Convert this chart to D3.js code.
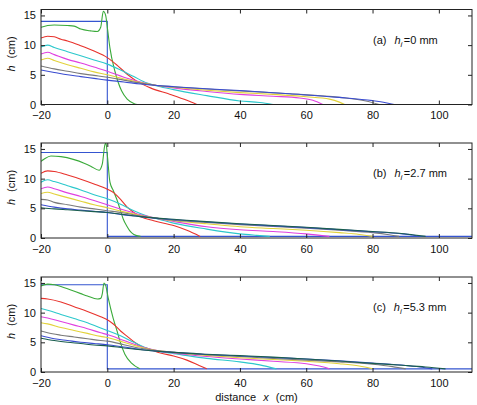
<!DOCTYPE html>
<html>
<head>
<meta charset="utf-8">
<script src="https://cdn.jsdelivr.net/npm/d3@7"></script>
<style>
  body { margin: 0; background: #fff; }
  svg { font-family: "Liberation Sans", Arial, Helvetica, sans-serif; }
  .tick text { font-size: 11px; fill: #111; }
</style>
</head>
<body>
<div id="chart"></div>
<script>
// x ticks / y ticks
var xTicks = [-20, 0, 20, 40, 60, 80, 100];
var yTicks = [0, 5, 10, 15];

// panel labels (initial bed depth h_i)
var panelTags = ["(a)", "(b)", "(c)"];
var hiLabels = ["=0 mm", "=2.7 mm", "=5.3 mm"];

// ---- panel (a) h_i = 0
var aStep = [[-20,14],[0,14],[0,0]];
var aGreen = [[-20,13.0],[-18,13.3],[-16,13.4],[-12,13.3],[-10,13.2],[-8,12.7],[-5,12.4],[-3,12.3],[-2,13.0],[-1.2,15.7],[-0.5,15.0],[0,13.0],[0.8,9.5],[2.3,5.6],[4.3,2.3],[6,0.9],[8.3,0.1],[9,0]];
var aRed = [[-20,11.2],[-18,11.5],[-16,11.4],[-14,11.0],[-12,10.7],[-8,9.9],[-4,9.0],[0,7.9],[3,6.6],[6,5.1],[9,3.9],[13,2.8],[19,1.7],[24,0.7],[27,0]];
var aCyan = [[-20,9.7],[-18,10.0],[-16,9.6],[-12,8.9],[-8,8.2],[-4,7.5],[0,6.8],[4,5.8],[8,4.7],[12,3.6],[16,3.0],[20,2.5],[30,1.5],[40,0.6],[46,0.35],[50,0]];
var aMagenta = [[-20,8.5],[-18,8.8],[-16,8.4],[-12,7.6],[-8,7.0],[-4,6.3],[0,5.6],[5,4.6],[10,3.8],[15,3.2],[20,2.8],[30,2.2],[40,1.7],[50,1.4],[58,1.1],[62,0.7],[65,0]];
var aYellow = [[-20,7.5],[-18,7.8],[-16,7.4],[-12,6.7],[-8,6.1],[-4,5.5],[0,5.0],[5,4.3],[10,3.7],[15,3.2],[20,2.9],[30,2.4],[40,2.0],[50,1.7],[60,1.3],[67,0.9],[70,0.4],[71.6,0]];
var aGray = [[-20,6.5],[-16,6.0],[-12,5.6],[-8,5.2],[-4,4.9],[0,4.6],[5,4.1],[10,3.6],[15,3.2],[20,3.0],[30,2.6],[40,2.3],[55,1.8],[70,1.2],[78,0.6],[82,0]];
var aBlue = [[-20,5.8],[-16,5.4],[-12,5.0],[-8,4.7],[-4,4.4],[0,4.1],[5,3.8],[10,3.45],[15,3.2],[20,3.0],[30,2.65],[40,2.35],[55,1.8],[70,1.2],[80,0.65],[84,0.3],[86.5,0]];

// ---- panel (b) h_i = 2.7 mm
var bStep = [[-20,14.4],[0,14.4],[0,0.27],[110,0.27]];
var bGreen = [[-20,12.9],[-19,13.3],[-17,13.8],[-14,13.7],[-10,13.2],[-7,12.6],[-5,12.1],[-2.5,11.4],[-1.5,12.5],[-0.8,15.5],[-0.4,16],[0,14.0],[0.8,9.4],[1.8,8.0],[2.8,6.6],[4,4.6],[4.8,3.2],[6,1.9],[6.8,1.2],[8,0.6],[10,0.27]];
var bRed = [[-20,10.9],[-18,11.3],[-16,11.2],[-12,10.6],[-8,9.9],[-4,9.1],[0,8.2],[2,7.6],[4,6.5],[6,5.2],[8,4.3],[10,3.6],[14,2.9],[20,2.1],[24,1.3],[28,0.27]];
var bCyan = [[-20,9.4],[-18,9.8],[-16,9.5],[-12,8.8],[-8,8.1],[-4,7.3],[0,6.6],[4,5.7],[8,4.6],[12,3.7],[16,3.1],[20,2.5],[30,1.5],[40,0.7],[45,0.45],[49,0.27]];
var bMagenta = [[-20,8.3],[-18,8.6],[-16,8.3],[-12,7.6],[-8,7.0],[-4,6.3],[0,5.6],[5,4.7],[10,3.9],[15,3.3],[20,2.8],[30,1.9],[40,1.4],[50,1.1],[60,0.7],[67,0.27]];
var bYellow = [[-20,7.5],[-18,7.7],[-16,7.4],[-12,6.8],[-8,6.2],[-4,5.6],[0,5.1],[5,4.4],[10,3.8],[15,3.3],[20,2.9],[30,2.4],[40,1.9],[50,1.6],[60,1.3],[70,0.9],[76,0.6],[80,0.27]];
var bGray = [[-20,6.5],[-18,6.4],[-16,6.0],[-12,5.6],[-8,5.2],[-4,4.9],[0,4.6],[5,4.2],[10,3.7],[15,3.3],[20,3.0],[30,2.6],[40,2.25],[50,1.95],[60,1.65],[70,1.3],[80,0.9],[85,0.55],[88,0.27]];
var bBlue = [[-20,5.6],[-16,5.2],[-12,4.9],[-8,4.7],[-4,4.5],[0,4.3],[5,3.9],[10,3.6],[15,3.3],[20,3.1],[30,2.7],[40,2.35],[50,2.05],[60,1.75],[70,1.4],[80,1.05],[88,0.75],[92,0.5],[94,0.27]];
var bDkGreen = [[-20,5.1],[-16,4.9],[-12,4.75],[-8,4.6],[-4,4.45],[0,4.3],[5,3.95],[10,3.6],[15,3.35],[20,3.15],[30,2.75],[40,2.4],[50,2.1],[60,1.8],[70,1.45],[80,1.1],[88,0.8],[92,0.55],[96,0.27]];

// ---- panel (c) h_i = 5.3 mm
var cStep = [[-20,14.7],[0,14.7],[0,0.53],[110,0.53]];
var cGreen = [[-20,14.5],[-18,14.8],[-16,14.7],[-14,14.4],[-11,13.8],[-8,13.2],[-6,12.8],[-3,12.3],[-2,12.4],[-1.5,13.2],[-1,15.0],[-0.5,14.6],[0.3,12.4],[1.8,9.0],[3,6.8],[3.8,5.2],[5.3,3.0],[7.3,1.5],[9.8,0.55]];
var cRed = [[-20,12.4],[-18,12.3],[-14,11.8],[-10,11.0],[-6,10.2],[-2,9.3],[0,8.8],[2,8.0],[4,6.9],[6,6.0],[8,5.1],[10,4.4],[13,3.8],[16,3.2],[20,2.7],[24,2.0],[27.7,1.1],[30,0.53]];
var cCyan = [[-20,10.7],[-18,10.4],[-14,9.7],[-10,9.0],[-6,8.3],[-2,7.4],[0,7.0],[4,6.1],[8,5.0],[12,4.0],[16,3.4],[20,3.1],[30,2.3],[40,1.7],[46,1.2],[51,0.53]];
var cMagenta = [[-20,9.3],[-18,9.1],[-14,8.5],[-10,7.9],[-6,7.3],[-2,6.6],[0,6.3],[5,5.3],[10,4.3],[15,3.6],[20,3.2],[30,2.6],[40,2.2],[50,1.8],[60,1.4],[64,1.0],[67,0.53]];
var cYellow = [[-20,8.3],[-18,8.1],[-14,7.5],[-10,7.0],[-6,6.5],[-2,6.0],[0,5.8],[5,5.0],[10,4.2],[15,3.6],[20,3.3],[30,2.8],[40,2.4],[50,2.1],[60,1.8],[70,1.4],[76,1.0],[80,0.53]];
var cGray = [[-20,6.9],[-18,6.6],[-14,6.2],[-10,5.9],[-6,5.6],[-2,5.3],[0,5.2],[5,4.6],[10,4.0],[15,3.6],[20,3.3],[30,2.9],[40,2.6],[50,2.3],[60,2.0],[70,1.7],[80,1.3],[86,0.9],[90,0.53]];
var cBlue = [[-20,6.1],[-16,5.6],[-12,5.3],[-8,5.0],[-4,4.8],[0,4.6],[5,4.2],[10,3.8],[15,3.5],[20,3.3],[30,2.95],[40,2.7],[50,2.45],[60,2.2],[70,1.9],[80,1.5],[90,1.1],[95,0.8],[98,0.53]];
var cDkGreen = [[-20,5.7],[-16,5.3],[-12,5.0],[-8,4.8],[-4,4.55],[0,4.4],[5,4.05],[10,3.75],[15,3.5],[20,3.3],[30,3.0],[40,2.75],[50,2.5],[60,2.2],[70,1.85],[80,1.45],[90,1.1],[96,0.85],[102,0.53]];

// line colours
var colors = {
    step: "#3555d0", green: "#3aaa3a", red: "#e8322c", cyan: "#2cc8cc",
    magenta: "#e040e0", yellow: "#e2d23a", gray: "#7a7a7a", blue: "#3a4cd0", dkgreen: "#1a5e4e"
};

var panels = [
    {lines: [["green", aGreen], ["red", aRed], ["cyan", aCyan], ["magenta", aMagenta], ["yellow", aYellow], ["gray", aGray], ["blue", aBlue]], step: aStep},
    {lines: [["green", bGreen], ["red", bRed], ["cyan", bCyan], ["magenta", bMagenta], ["yellow", bYellow], ["gray", bGray], ["blue", bBlue], ["dkgreen", bDkGreen]], step: bStep},
    {lines: [["green", cGreen], ["red", cRed], ["cyan", cCyan], ["magenta", cMagenta], ["yellow", cYellow], ["gray", cGray], ["blue", cBlue], ["dkgreen", cDkGreen]], step: cStep}
];

// svg area
var svgWidth = 477;
var svgHeight = 405;
var left = 41, right = 472;
var panelTops = [9.5, 143, 277];
var panelH = 95;

var svg = d3.select("#chart")
    .append("svg")
    .attr("width", svgWidth)
    .attr("height", svgHeight);

var xScale = d3.scaleLinear().domain([-20, 110]).range([left, right]);

panels.forEach(function(p, i) {
    var top = panelTops[i];
    var yScale = d3.scaleLinear().domain([0, 16]).range([top + panelH, top]);

    var g = svg.append("g");

    var clipId = "clip" + i;
    svg.append("clipPath").attr("id", clipId)
        .append("rect")
        .attr("x", left).attr("y", top)
        .attr("width", right - left).attr("height", panelH);

    var curved = d3.line()
        .x(d => xScale(d[0]))
        .y(d => yScale(d[1]))
        .curve(d3.curveMonotoneX);
    var straight = d3.line()
        .x(d => xScale(d[0]))
        .y(d => yScale(d[1]));

    var plot = g.append("g").attr("clip-path", "url(#" + clipId + ")");

    // initial condition (blue step)
    plot.append("path")
        .attr("d", straight(p.step))
        .attr("fill", "none")
        .attr("stroke", colors.step)
        .attr("stroke-width", 1.1);

    p.lines.forEach(function(l) {
        plot.append("path")
            .attr("d", curved(l[1]))
            .attr("fill", "none")
            .attr("stroke", colors[l[0]])
            .attr("stroke-width", 1.1);
    });

    // axes, MATLAB style (ticks inside, box)
    g.append("g")
        .attr("transform", `translate(0, ${top + panelH})`)
        .call(d3.axisBottom(xScale).tickValues(xTicks).tickSizeInner(-4).tickSizeOuter(0)
            .tickFormat(d => d < 0 ? "\u2212" + Math.abs(d) : d))
        .call(a => a.select(".domain").remove())
        .call(a => a.selectAll(".tick text").attr("dy", "1.05em"));

    g.append("g")
        .attr("transform", `translate(0, ${top})`)
        .call(d3.axisTop(xScale).tickValues(xTicks).tickSizeInner(-4).tickSizeOuter(0).tickFormat(""))
        .call(a => a.select(".domain").remove());

    g.append("g")
        .attr("transform", `translate(${left}, 0)`)
        .call(d3.axisLeft(yScale).tickValues(yTicks).tickSizeInner(-4).tickSizeOuter(0))
        .call(a => a.select(".domain").remove())
        .call(a => a.selectAll(".tick text").attr("x", -5));

    g.append("g")
        .attr("transform", `translate(${right}, 0)`)
        .call(d3.axisRight(yScale).tickValues(yTicks).tickSizeInner(-4).tickSizeOuter(0).tickFormat(""))
        .call(a => a.select(".domain").remove());

    g.selectAll(".tick line").attr("stroke", "#222");

    g.append("rect")
        .attr("x", left).attr("y", top)
        .attr("width", right - left).attr("height", panelH)
        .attr("fill", "none")
        .attr("stroke", "#222")
        .attr("stroke-width", 1);

    // y-axis title
    var yl = g.append("text")
        .attr("transform", `translate(15, ${top + panelH / 2 - 3}) rotate(-90)`)
        .attr("text-anchor", "middle")
        .attr("font-size", 11)
        .attr("fill", "#111");
    yl.append("tspan").attr("font-style", "italic").text("h");
    yl.append("tspan").attr("dx", 7).text("(cm)");

    // panel annotation
    var ann = g.append("text")
        .attr("x", 373)
        .attr("y", top + 34)
        .attr("font-size", 11)
        .attr("fill", "#111");
    ann.append("tspan").text(panelTags[i]);
    ann.append("tspan").attr("dx", 8).attr("font-style", "italic").text("h");
    ann.append("tspan").attr("dy", 3).attr("font-size", 8).attr("font-style", "italic").text("i");
    ann.append("tspan").attr("dy", -3).attr("dx", 1.5).text(hiLabels[i]);
});

// x-axis title
var xl = svg.append("text")
    .attr("x", (left + right) / 2)
    .attr("y", 401)
    .attr("text-anchor", "middle")
    .attr("font-size", 11)
    .attr("fill", "#111");
xl.append("tspan").text("distance");
xl.append("tspan").attr("dx", 7).attr("font-style", "italic").text("x");
xl.append("tspan").attr("dx", 7).text("(cm)");
</script>
</body>
</html>
